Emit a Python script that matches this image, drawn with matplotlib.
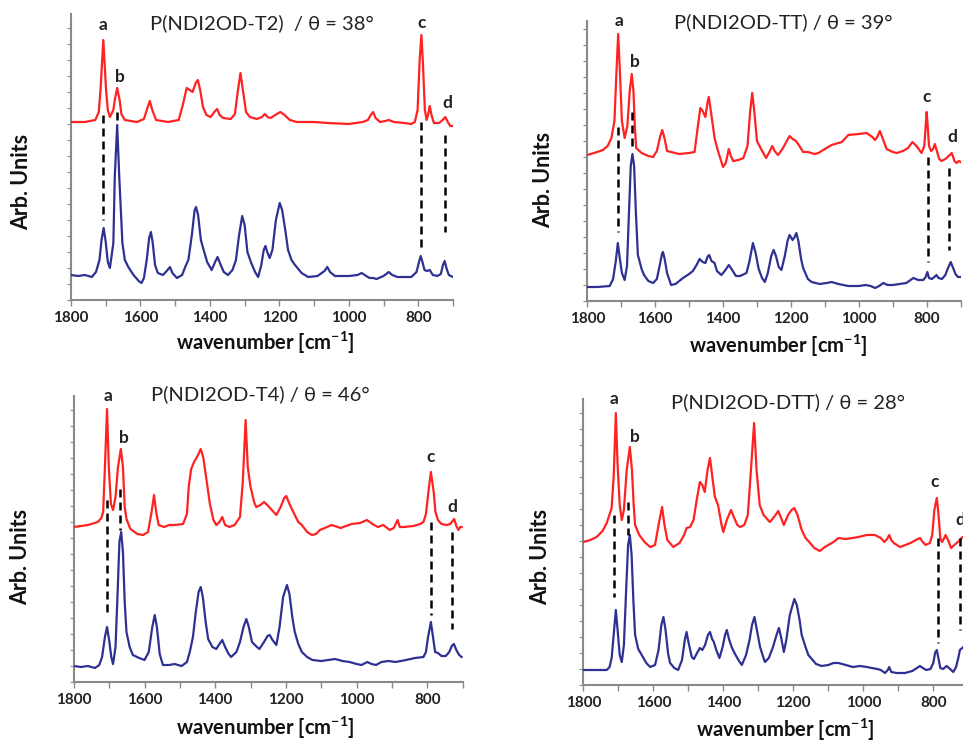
import matplotlib
matplotlib.use("Agg")
from matplotlib import pyplot as plt
from matplotlib.ticker import MultipleLocator

# ---- spectra: wavenumber [cm-1], height [arb.] ----
# P(NDI2OD-T2)
t2_red_wn = [1800, 1760, 1730, 1720, 1715, 1707, 1699, 1694, 1688, 1678, 1674, 1667, 1660, 1655, 1645,
             1610, 1590, 1580, 1573, 1566, 1555, 1520, 1490, 1478, 1467, 1458, 1450, 1441, 1435, 1428,
             1420, 1410, 1398, 1385, 1379, 1372, 1362, 1340, 1328, 1320, 1312, 1305, 1296, 1285, 1265,
             1250, 1242, 1234, 1225, 1212, 1197, 1185, 1170, 1150, 1100, 1060, 1000, 960, 945, 937,
             930, 923, 910, 895, 885, 870, 840, 820, 810, 802, 796, 791, 787, 781, 776, 772, 767, 762,
             755, 740, 730, 722, 715, 708, 700]
t2_red_y = [178, 178, 180, 188, 210, 260, 210, 190, 183, 190, 200, 212, 200, 186, 180,
            178, 181, 192, 199, 190, 180, 178, 180, 195, 212, 210, 208, 217, 220, 210,
            193, 185, 183, 189, 191, 185, 182, 181, 186, 208, 227, 210, 188, 183, 181,
            183, 186, 183, 182, 185, 188, 185, 180, 178, 178, 177, 176, 178, 180, 185,
            188, 182, 178, 179, 180, 178, 177, 176, 178, 190, 240, 265, 240, 190, 180, 185, 194, 185,
            177, 177, 180, 183, 178, 174, 174]
t2_blue_wn = [1800, 1780, 1760, 1740, 1728, 1718, 1712, 1706, 1700, 1694, 1688, 1678, 1674, 1667, 1661,
              1652, 1645, 1635, 1620, 1605, 1597, 1590, 1582, 1575, 1570, 1565, 1558, 1550, 1535, 1522,
              1515, 1508, 1495, 1480, 1470, 1462, 1452, 1444, 1440, 1434, 1426, 1418, 1408, 1395, 1385,
              1378, 1370, 1360, 1348, 1335, 1325, 1316, 1307, 1300, 1292, 1282, 1270, 1261, 1252, 1245,
              1240, 1235, 1228, 1220, 1210, 1199, 1192, 1183, 1175, 1165, 1155, 1136, 1117, 1090, 1070,
              1062, 1054, 1040, 1000, 975, 963, 950, 940, 930, 920, 900, 885, 875, 860, 820, 805, 798,
              793, 788, 782, 775, 767, 758, 745, 735, 729, 724, 719, 712, 700]
t2_blue_y = [25, 24, 25, 23, 28, 40, 60, 72, 58, 38, 32, 57, 123, 175, 123,
             57, 40, 33, 25, 19, 17, 22, 40, 62, 68, 58, 35, 27, 25, 30,
             33, 27, 22, 25, 34, 40, 65, 90, 93, 85, 60, 50, 38, 30, 38,
             43, 36, 28, 25, 30, 40, 65, 84, 75, 48, 38, 28, 23, 35, 50,
             54, 48, 42, 50, 80, 97, 90, 70, 50, 40, 35, 27, 23, 24, 29,
             33, 28, 24, 24, 25, 27, 24, 22, 22, 21, 24, 28, 25, 23, 23, 28, 38,
             44, 38, 30, 29, 30, 25, 24, 26, 35, 39, 32, 25, 23]

# P(NDI2OD-TT)
tt_red_wn = [1800, 1780, 1754, 1740, 1729, 1720, 1714, 1709, 1704, 1698, 1690, 1682, 1675, 1669, 1664,
             1660, 1656, 1640, 1620, 1606, 1595, 1585, 1579, 1572, 1565, 1553, 1530, 1500, 1484, 1476,
             1467, 1460, 1452, 1446, 1442, 1436, 1425, 1415, 1400, 1392, 1383, 1377, 1370, 1355, 1340,
             1328, 1320, 1314, 1308, 1300, 1288, 1273, 1262, 1255, 1248, 1238, 1225, 1212, 1204, 1195,
             1185, 1175, 1164, 1150, 1130, 1119, 1100, 1080, 1050, 1031, 1000, 977, 960, 952, 944, 938,
             930, 918, 900, 888, 870, 855, 842, 830, 815, 807, 803, 800, 797, 793, 787, 781, 776, 770,
             763, 756, 745, 735, 726, 718, 712, 705, 700]
tt_red_y = [146, 148, 151, 155, 163, 180, 230, 267, 230, 180, 163, 175, 210, 227, 210,
            175, 153, 148, 145, 144, 150, 165, 171, 162, 150, 149, 147, 148, 149, 170,
            193, 190, 184, 198, 204, 190, 163, 150, 134, 138, 152, 145, 140, 141, 143,
            155, 190, 208, 190, 160, 152, 143, 150, 155, 150, 146, 152, 160, 165, 162,
            160, 155, 149, 149, 147, 148, 152, 156, 159, 166, 167, 168, 164, 161, 165, 170,
            163, 152, 149, 148, 150, 153, 159, 155, 148, 155, 175, 189, 175, 155, 150, 152, 157, 150,
            142, 140, 142, 145, 148, 140, 138, 140, 139]
tt_blue_wn = [1800, 1770, 1734, 1724, 1716, 1710, 1704, 1698, 1690, 1683, 1677, 1672, 1667, 1662, 1657,
              1651, 1640, 1633, 1620, 1606, 1595, 1587, 1580, 1577, 1572, 1565, 1553, 1540, 1518, 1500,
              1489, 1478, 1469, 1460, 1452, 1446, 1441, 1434, 1425, 1418, 1405, 1395, 1383, 1375, 1362,
              1350, 1331, 1322, 1312, 1304, 1295, 1285, 1277, 1268, 1258, 1251, 1244, 1236, 1228, 1218,
              1210, 1204, 1195, 1189, 1184, 1178, 1170, 1164, 1159, 1150, 1139, 1115, 1095, 1080, 1060,
              1031, 1000, 980, 965, 952, 940, 928, 915, 900, 880, 860, 839, 825, 810, 803, 798, 793,
              785, 777, 771, 765, 755, 745, 737, 729, 722, 715, 708, 700]
tt_blue_y = [14, 14, 15, 22, 40, 58, 42, 28, 21, 35, 90, 135, 147, 135, 90,
             46, 32, 26, 20, 18, 22, 35, 47, 49, 42, 28, 16, 17, 23, 27,
             30, 36, 42, 39, 38, 44, 46, 40, 38, 30, 26, 30, 36, 32, 25,
             25, 28, 40, 58, 48, 32, 23, 19, 28, 45, 51, 45, 34, 31, 45,
             60, 66, 61, 64, 68, 60, 42, 33, 29, 22, 19, 17, 18, 19, 17,
             15, 15, 16, 15, 13, 15, 18, 16, 16, 17, 18, 23, 21, 21, 24, 29, 23,
             22, 24, 26, 23, 22, 26, 33, 39, 33, 27, 24, 24]

# P(NDI2OD-T4)
t4_red_wn = [1800, 1780, 1760, 1732, 1722, 1717, 1712, 1706, 1701, 1695, 1689, 1682, 1675, 1667, 1661,
             1656, 1651, 1640, 1620, 1604, 1590, 1580, 1573, 1567, 1560, 1545, 1530, 1515, 1491, 1480,
             1475, 1468, 1460, 1450, 1441, 1434, 1425, 1415, 1405, 1397, 1388, 1380, 1372, 1360, 1345,
             1330, 1322, 1314, 1308, 1300, 1290, 1284, 1272, 1262, 1250, 1240, 1227, 1215, 1205, 1199,
             1190, 1175, 1165, 1155, 1140, 1127, 1115, 1104, 1090, 1071, 1045, 1030, 1014, 990, 971,
             955, 940, 925, 906, 895, 884, 878, 865, 840, 820, 811, 804, 797, 790, 782, 777, 770, 760,
             745, 735, 724, 718, 712, 707, 703]
t4_red_y = [155, 156, 157, 160, 164, 170, 215, 273, 215, 178, 172, 185, 215, 233, 215,
            175, 163, 153, 148, 147, 150, 170, 187, 170, 157, 155, 157, 157, 158, 168,
            195, 213, 220, 226, 233, 225, 203, 178, 162, 157, 160, 165, 157, 155, 157,
            165, 200, 262, 215, 195, 180, 175, 177, 180, 176, 172, 167, 175, 184, 186,
            178, 167, 160, 157, 150, 147, 148, 152, 154, 157, 154, 156, 158, 159, 162,
            158, 155, 157, 152, 154, 162, 155, 155, 156, 158, 160, 168, 190, 210, 190, 170, 162, 158,
            157, 158, 163, 156, 152, 155, 155]
t4_blue_wn = [1800, 1780, 1760, 1740, 1728, 1720, 1712, 1706, 1700, 1694, 1689, 1682, 1676, 1671, 1666,
              1661, 1656, 1651, 1642, 1633, 1615, 1600, 1588, 1578, 1571, 1565, 1557, 1548, 1530, 1515,
              1495, 1480, 1472, 1463, 1455, 1447, 1441, 1435, 1427, 1420, 1408, 1397, 1388, 1380, 1372,
              1362, 1355, 1340, 1330, 1320, 1312, 1305, 1296, 1285, 1275, 1262, 1252, 1246, 1238, 1227,
              1218, 1208, 1197, 1190, 1182, 1175, 1165, 1155, 1140, 1125, 1100, 1080, 1061, 1040, 1020,
              1000, 986, 970, 958, 945, 930, 910, 890, 860, 835, 811, 804, 798, 790, 784, 778, 770, 760,
              748, 738, 731, 725, 718, 710, 703]
t4_blue_y = [16, 15, 16, 14, 17, 25, 45, 55, 42, 25, 18, 35, 90, 140, 150,
             130, 80, 50, 35, 27, 24, 22, 30, 55, 67, 55, 28, 17, 17, 18,
             16, 20, 30, 45, 70, 90, 95, 85, 60, 43, 35, 33, 38, 42, 35,
             28, 25, 30, 40, 55, 63, 55, 40, 36, 33, 40, 46, 47, 42, 37,
             55, 85, 97, 88, 65, 50, 38, 30, 25, 22, 21, 22, 23, 21, 20,
             18, 17, 20, 18, 17, 20, 21, 20, 22, 24, 25, 30, 45, 60, 45, 30, 29, 26,
             26, 30, 36, 38, 32, 27, 25]

# P(NDI2OD-DTT)
dtt_red_wn = [1800, 1780, 1762, 1745, 1733, 1719, 1713, 1707, 1702, 1696, 1690, 1684, 1676, 1667, 1661,
              1656, 1652, 1640, 1625, 1609, 1595, 1585, 1575, 1568, 1560, 1543, 1525, 1512, 1505, 1495,
              1485, 1476, 1467, 1460, 1453, 1445, 1438, 1432, 1424, 1415, 1405, 1400, 1390, 1378, 1370,
              1360, 1352, 1340, 1330, 1322, 1312, 1305, 1296, 1285, 1267, 1255, 1243, 1236, 1227, 1215,
              1205, 1197, 1188, 1176, 1165, 1152, 1140, 1124, 1110, 1100, 1085, 1071, 1050, 1030, 1014,
              990, 967, 950, 940, 932, 926, 920, 913, 895, 880, 865, 850, 838, 830, 822, 810, 803, 797,
              790, 785, 780, 775, 770, 765, 758, 749, 740, 730, 716, 708, 700]
dtt_red_y = [143, 145, 148, 154, 162, 177, 210, 272, 220, 180, 165, 175, 215, 238, 215,
             180, 160, 150, 143, 138, 140, 160, 178, 160, 145, 138, 142, 150, 157, 158,
             165, 185, 203, 200, 193, 215, 227, 210, 188, 180, 160, 153, 165, 175, 168,
             160, 158, 160, 170, 210, 262, 215, 180, 170, 163, 168, 174, 168, 160, 170,
             175, 177, 170, 155, 147, 142, 137, 134, 138, 140, 143, 147, 146, 147, 148,
             150, 150, 147, 143, 146, 150, 145, 142, 138, 140, 142, 145, 147, 143, 140, 142, 150, 175,
             187, 170, 147, 143, 146, 150, 145, 137, 140, 143, 148, 145, 142]
dtt_blue_wn = [1800, 1770, 1733, 1725, 1719, 1712, 1707, 1702, 1696, 1690, 1684, 1677, 1672, 1667, 1662,
               1657, 1652, 1643, 1633, 1620, 1609, 1595, 1585, 1577, 1571, 1565, 1558, 1552, 1540, 1529,
               1518, 1510, 1505, 1499, 1490, 1484, 1475, 1467, 1460, 1452, 1444, 1438, 1432, 1427, 1420,
               1411, 1402, 1395, 1390, 1383, 1375, 1365, 1355, 1347, 1335, 1325, 1318, 1311, 1304, 1295,
               1285, 1281, 1270, 1258, 1248, 1241, 1235, 1227, 1220, 1210, 1197, 1190, 1182, 1176, 1165,
               1157, 1147, 1135, 1119, 1100, 1085, 1071, 1050, 1030, 1010, 990, 976, 960, 950, 938, 930,
               926, 920, 905, 881, 860, 838, 830, 820, 808, 800, 795, 790, 786, 780, 772, 762, 752, 743,
               735, 728, 724, 714, 708, 700]
dtt_blue_y = [15, 15, 15, 18, 27, 55, 75, 55, 30, 23, 40, 100, 140, 150, 130,
              85, 50, 36, 30, 22, 18, 20, 35, 60, 68, 55, 32, 22, 17, 15,
              25, 45, 53, 42, 28, 26, 32, 37, 35, 40, 50, 53, 46, 43, 35,
              27, 38, 50, 55, 45, 37, 30, 24, 20, 30, 45, 60, 68, 55, 38,
              27, 23, 27, 38, 50, 57, 48, 33, 45, 70, 86, 80, 65, 50, 38,
              30, 26, 21, 19, 20, 22, 22, 20, 18, 19, 18, 17, 16, 15, 12, 15,
              18, 13, 12, 12, 14, 19, 17, 15, 16, 22, 32, 35, 28, 17, 16, 19, 16, 13,
              18, 28, 35, 38, 38, 32]

# band positions a, b, c, d and the extent of the dashed guide lines
t2_band_wn = [1707, 1667, 791, 724]
t2_band_top = [185, 188, 178, 165]
t2_band_bottom = [80, 178, 52, 68]
tt_band_wn = [1709, 1667, 795, 733]
tt_band_top = [174, 189, 144, 133]
tt_band_bottom = [69, 150, 39, 51]
t4_band_wn = [1707, 1668, 790, 729]
t4_band_top = [182, 193, 160, 150]
t4_band_bottom = [70, 152, 67, 53]
dtt_band_wn = [1711, 1671, 787, 724]
dtt_band_top = [170, 183, 147, 147]
dtt_band_bottom = [88, 150, 42, 55]

band_names = ["a", "b", "c", "d"]
titles = ["P(NDI2OD-T2)  / θ = 38°", "P(NDI2OD-TT) / θ = 39°",
          "P(NDI2OD-T4) / θ = 46°", "P(NDI2OD-DTT) / θ = 28°"]
xtick_vals = [1800, 1600, 1400, 1200, 1000, 800]

# layout of each panel (pixels of a 963x744 canvas)
panels = [
    dict(red=(t2_red_wn, t2_red_y), blue=(t2_blue_wn, t2_blue_y),
         bands=(t2_band_wn, t2_band_top, t2_band_bottom),
         box=(71, 300, 382, 286), title_at=(1250, 277),
         letters=[(1707, 275), (1659, 223), (791, 277), (717, 197)],
         xlab=(0.508, -0.150), ylab=(-0.128, 0.413)),
    dict(red=(tt_red_wn, tt_red_y), blue=(tt_blue_wn, tt_blue_y),
         bands=(tt_band_wn, tt_band_top, tt_band_bottom),
         box=(587.3, 301, 373.3, 280), title_at=(1222, 279),
         letters=[(1706, 280), (1659, 239), (800, 204), (723, 164)],
         xlab=(0.512, -0.160), ylab=(-0.118, 0.432)),
    dict(red=(t4_red_wn, t4_red_y), blue=(t4_blue_wn, t4_blue_y),
         bands=(t4_band_wn, t4_band_top, t4_band_bottom),
         box=(73.8, 682, 388.9, 286), title_at=(1273, 288),
         letters=[(1704, 286), (1657, 244), (792, 225), (729, 175)],
         xlab=(0.492, -0.160), ylab=(-0.138, 0.438)),
    dict(red=(dtt_red_wn, dtt_red_y), blue=(dtt_blue_wn, dtt_blue_y),
         bands=(dtt_band_wn, dtt_band_top, dtt_band_bottom),
         box=(583.3, 685, 385, 286), title_at=(1214, 283),
         letters=[(1711, 286), (1654, 248), (795, 203), (724, 165)],
         xlab=(0.524, -0.158), ylab=(-0.112, 0.449)),
]

W, H = 963, 744
fams = ["Lato", "DejaVu Sans"]
plt.rcParams["font.family"] = fams
plt.rcParams["mathtext.fontset"] = "custom"
plt.rcParams["mathtext.rm"] = "Lato:bold"
plt.rcParams["mathtext.bf"] = "Lato:bold"

fig = plt.figure(figsize=(W / 100, H / 100), dpi=100)
grey = "#8a8a8a"

for i, p in enumerate(panels):
    left, bottom, width, height = p["box"]
    ax = fig.add_axes([left / W, (H - bottom) / H, width / W, height / H])
    ax.plot(p["red"][0], p["red"][1], color="#ff2222", lw=1.6, zorder=3)
    ax.plot(p["blue"][0], p["blue"][1], color="#2e3192", lw=1.6, zorder=3)
    bwn, btop, bbot = p["bands"]
    for k in range(len(bwn)):
        ax.plot([bwn[k], bwn[k]], [btop[k], bbot[k]], color="black", lw=1.8,
                ls=(0, (3.2, 2.0)), zorder=4)
        ax.text(p["letters"][k][0], p["letters"][k][1], band_names[k], ha="center", va="center",
                fontsize=12.5, fontweight="bold", color="#222222", clip_on=False)
    ax.text(p["title_at"][0], p["title_at"][1], titles[i], ha="center", va="center",
            fontsize=14.5, color="#222222")

    ax.set_xlim(1800, 700)
    ax.set_ylim(0, height)
    for s in ["top", "right"]:
        ax.spines[s].set_visible(False)
    for s in ["left", "bottom"]:
        ax.spines[s].set_color(grey)
        ax.spines[s].set_linewidth(1.5)
    ax.set_xticks(xtick_vals)
    ax.set_xticklabels([str(v) for v in xtick_vals])
    ax.xaxis.set_minor_locator(MultipleLocator(100))
    ax.yaxis.set_major_locator(MultipleLocator(16))
    ax.tick_params(axis="x", which="both", direction="out", length=4, width=1, color=grey,
                   labelsize=11, pad=4)
    ax.tick_params(axis="y", which="both", direction="out", length=3, width=0.8, color=grey,
                   labelleft=False)
    for t in ax.get_xticklabels():
        t.set_fontweight("bold")
        t.set_color("#222222")

    ax.set_xlabel(r"wavenumber [cm$^{\mathbf{-1}}$]", fontsize=14.5, fontweight="bold",
                  color="#111111", va="center")
    ax.xaxis.set_label_coords(*p["xlab"])
    ax.set_ylabel("Arb. Units", fontsize=15.5, fontweight="bold", color="#111111", va="center")
    ax.yaxis.set_label_coords(*p["ylab"])

fig.savefig("out.png", dpi=100, facecolor="white")
